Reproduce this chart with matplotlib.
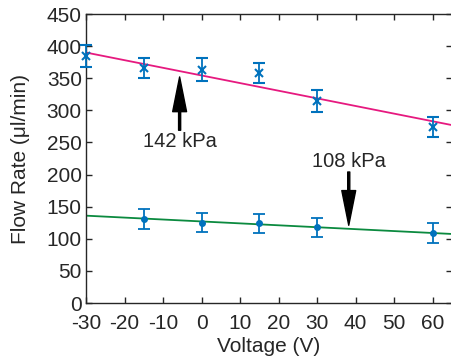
import matplotlib
matplotlib.use("Agg")
import matplotlib.pyplot as plt

plt.rcParams['font.family'] = ['Liberation Sans', 'DejaVu Sans']
plt.rcParams['axes.unicode_minus'] = False

voltage = [-30, -15, 0, 15, 30, 60]
flow_142 = [385, 366, 363, 358, 315, 274]
err_142 = [17, 16, 18, 16, 17, 16]

voltage_108 = [-15, 0, 15, 30, 60]
flow_108 = [131, 125, 124, 118, 109]
err_108 = [15, 15, 15, 15, 15]

fit_x = [-30, 65]
fit_142 = [390, 277]
fit_108 = [136, 107.5]

xticks = [-30, -20, -10, 0, 10, 20, 30, 40, 50, 60]
yticks = [0, 50, 100, 150, 200, 250, 300, 350, 400, 450]

blue = '#0072BD'
txt = '#262626'

fig = plt.figure(figsize=(4.51, 3.60), dpi=100)
ax = fig.add_axes([0.1907, 0.1583, 0.8115, 0.8028])

ax.plot(fit_x, fit_142, color='#E6197F', lw=1.3, zorder=2)
ax.plot(fit_x, fit_108, color='#0B8A3F', lw=1.3, zorder=2)

ax.errorbar(voltage, flow_142, yerr=err_142, fmt='x', color=blue, ms=6, mew=1.5,
            capsize=4, elinewidth=1.3, capthick=1.3, zorder=3, clip_on=False)
ax.errorbar(voltage_108, flow_108, yerr=err_108, fmt='o', color=blue, ms=4,
            capsize=4, elinewidth=1.3, capthick=1.3, zorder=3)

arrow_props = dict(facecolor='black', edgecolor='black', width=1.5, headwidth=10,
                   headlength=25, shrink=0)
ax.annotate('', xy=(-5.7, 352), xytext=(-5.7, 269), arrowprops=arrow_props)
ax.text(-5.7, 251, '142 kPa', ha='center', va='center', fontsize=14.5, color=txt)
ax.annotate('', xy=(38.2, 121), xytext=(38.2, 204), arrowprops=arrow_props)
ax.text(38.2, 220, '108 kPa', ha='center', va='center', fontsize=14.5, color=txt)

ax.set_xlim(-30, 65)
ax.set_ylim(0, 450)
ax.set_xticks(xticks)
ax.set_yticks(yticks)
ax.tick_params(direction='in', top=True, right=True, labelsize=15, colors=txt,
               length=4, width=1)
ax.tick_params(axis='x', pad=8)
ax.tick_params(axis='y', pad=3)
for s in ax.spines.values():
    s.set_color(txt)
    s.set_linewidth(1)

ax.set_xlabel('Voltage (V)', fontsize=15, color=txt, labelpad=3)
ax.set_ylabel('Flow Rate (\u03bcl/min)', fontsize=15, color=txt, labelpad=12)

fig.savefig('out.png', dpi=100)
